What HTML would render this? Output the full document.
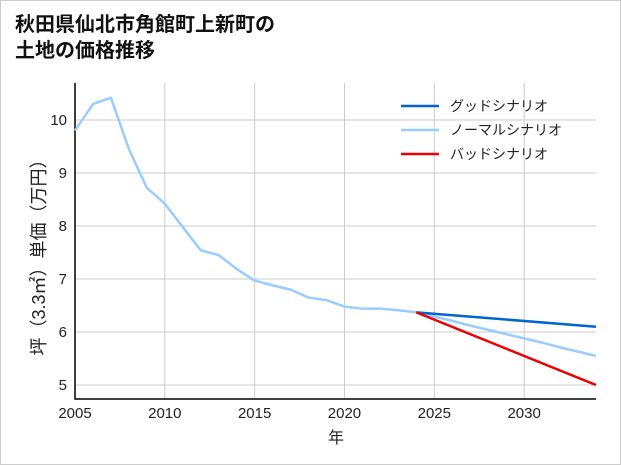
<!DOCTYPE html>
<html><head><meta charset="utf-8"><style>
body{margin:0;background:#fff}
#wrap{width:619px;height:463px;border:1px solid #ccc;position:relative;font-family:"Liberation Sans","Noto Sans CJK JP",sans-serif}
</style></head><body>
<div id="wrap">
<svg id="c" width="619" height="463" style="position:absolute;left:0;top:0"></svg>
</div>
<script>
const years=[2005,2006,2007,2008,2009,2010,2011,2012,2013,2014,2015,2016,2017,2018,2019,2020,2021,2022,2023,2024,2025,2026,2027,2028,2029,2030,2031,2032,2033,2034];
const normal=[9.8,10.3,10.42,9.45,8.72,8.42,7.98,7.54,7.45,7.19,6.97,6.88,6.8,6.65,6.6,6.48,6.44,6.44,6.41,6.37,6.29,6.21,6.12,6.04,5.96,5.88,5.80,5.71,5.63,5.55];
const goodYears=[2024,2034];const good=[6.37,6.1];
const badYears=[2024,2034];const bad=[6.37,5.0];
const xTicks=[2005,2010,2015,2020,2025,2030];
const yTicks=[5,6,7,8,9,10];
const ns="http://www.w3.org/2000/svg";const svg=document.getElementById('c');
const X0=74,X1=595,Y0=398,Y1=82;
const x=v=>X0+(v-2005)/(2034-2005)*(X1-X0);
const y=v=>384-(v-5)*53;
function el(t,a,txt){const e=document.createElementNS(ns,t);for(const k in a)e.setAttribute(k,a[k]);if(txt!=null)e.textContent=txt;svg.appendChild(e);return e;}
let t=el('text',{x:14,y:30,'font-size':20,'font-weight':'bold',fill:'#111'},'秋田県仙北市角館町上新町の');

t=el('text',{x:14,y:56,'font-size':20,'font-weight':'bold',fill:'#111'},'土地の価格推移');

xTicks.forEach(v=>{let g=el('line',{x1:x(v),x2:x(v),y1:Y1,y2:Y0,stroke:'#ccc','stroke-width':1});
let l=el('text',{x:x(v),y:417,'font-size':15,'text-anchor':'middle',fill:'#222'},v);});
yTicks.forEach(v=>{let g=el('line',{x1:X0,x2:X1,y1:y(v),y2:y(v),stroke:'#ccc','stroke-width':1});
let l=el('text',{x:66,y:y(v)+5,'font-size':15,'text-anchor':'end',fill:'#222'},v);});
let a=el('path',{d:`M${X0},${Y1}V${Y0}H${X1}`,fill:'none',stroke:'#000','stroke-width':1.5});
function line(xs,ys,c,n){const d=xs.map((v,i)=>(i?'L':'M')+x(v)+','+y(ys[i])).join('');const p=el('path',{d,fill:'none',stroke:c,'stroke-width':2.5,'stroke-linejoin':'round'});}
line(years,normal,'#99ccff','normal-scenario-line');
line(goodYears,good,'#0066cc','good-scenario-line');
line(badYears,bad,'#ee0000','bad-scenario-line');
t=el('text',{x:335,y:442,'font-size':16,'text-anchor':'middle',fill:'#222'},'年');
t=el('text',{x:0,y:0,'font-size':18,'text-anchor':'middle',fill:'#222',transform:'translate(44,252) rotate(-90)'},'坪（3.3㎡）単価（万円）');
[['グッドシナリオ','#0066cc'],['ノーマルシナリオ','#99ccff'],['バッドシナリオ','#ee0000']].forEach((e,i)=>{const yy=105+i*24;
let l=el('line',{x1:400,x2:438,y1:yy,y2:yy,stroke:e[1],'stroke-width':2.5});
let tx=el('text',{x:449,y:yy+5,'font-size':14,fill:'#222'},e[0]);});
</script>
</body></html>
